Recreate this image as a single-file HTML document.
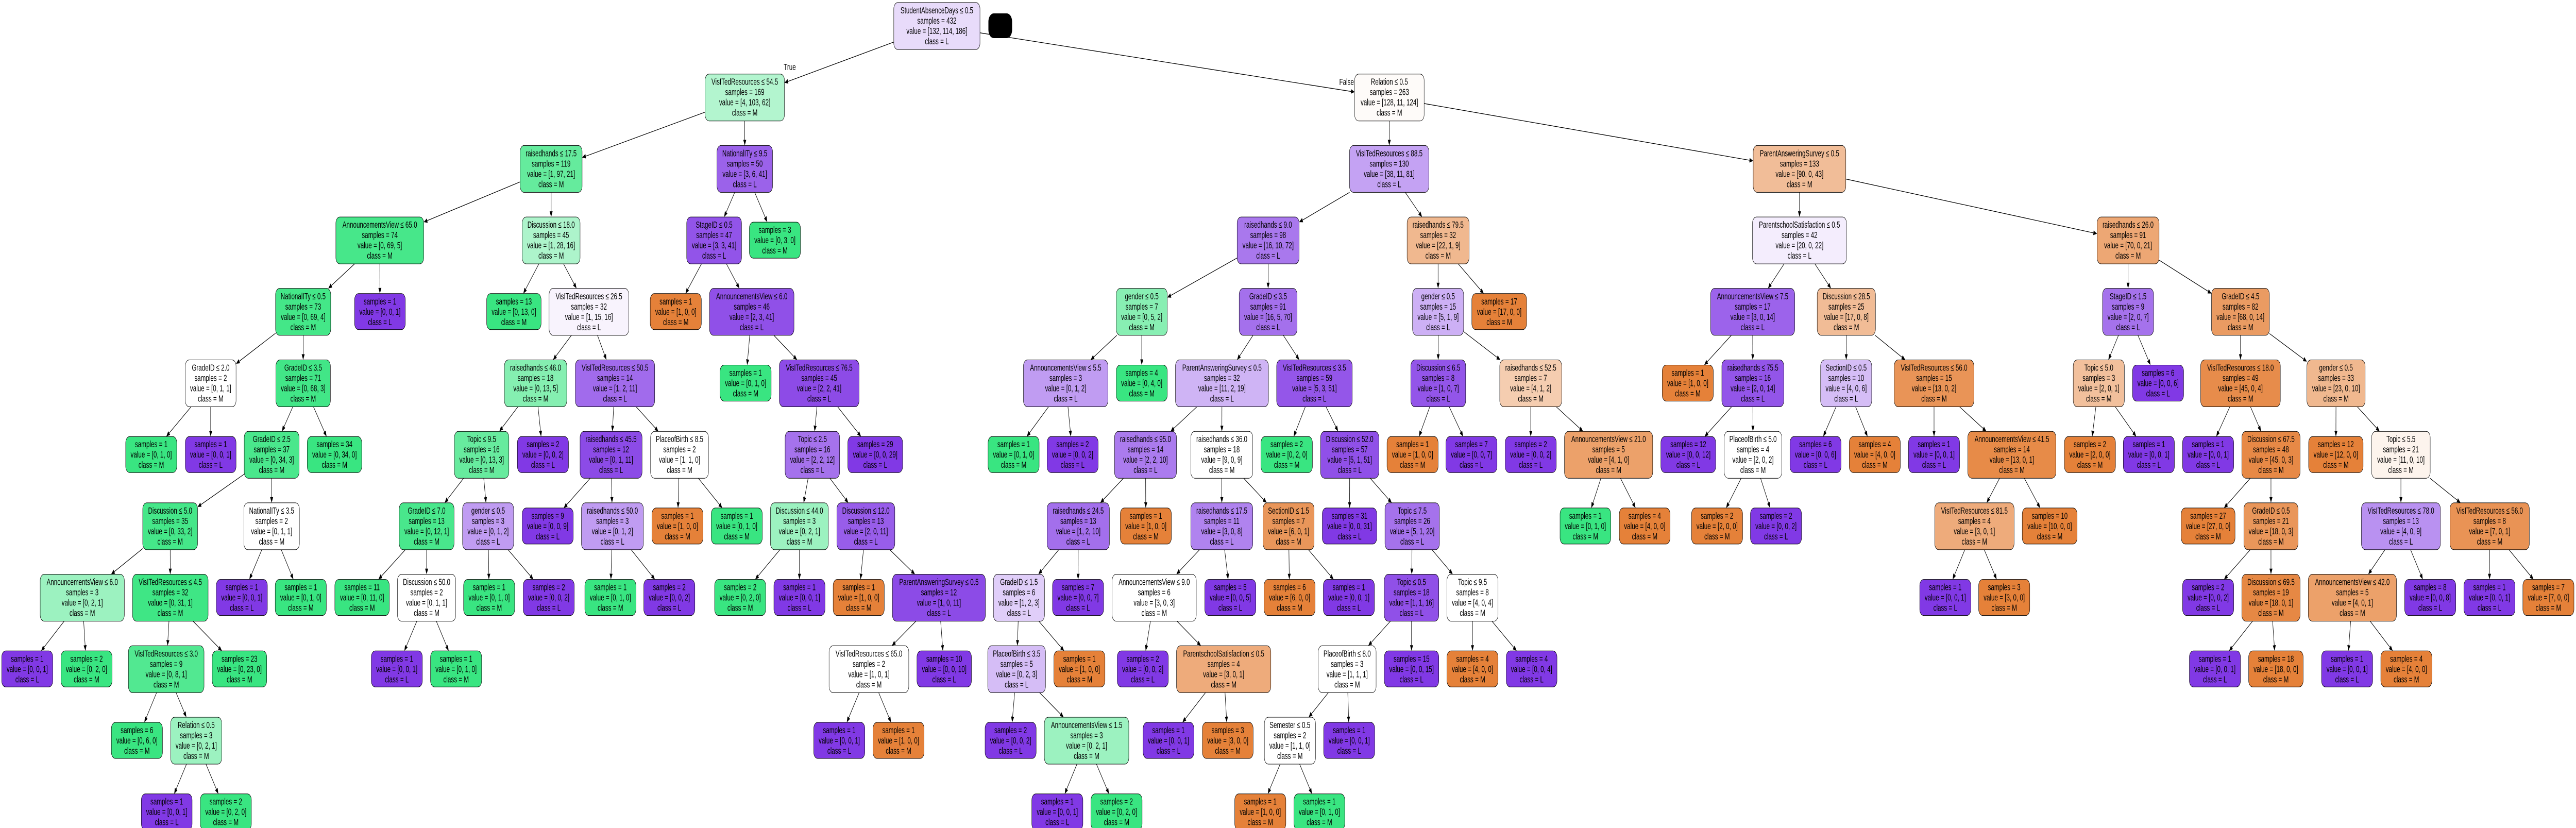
<!DOCTYPE html>
<html><head><meta charset="utf-8">
<style>
html,body{margin:0;padding:0;background:#fff;width:100%;height:100%;overflow:hidden}
#s{position:fixed;left:0;top:0;width:100vw;height:100vh;display:block}
svg text{font-family:"Liberation Sans",Arial,sans-serif;font-size:18px;fill:#000}
</style></head>
<body>
<svg id="s" viewBox="0 0 7717 1607" preserveAspectRatio="none" xmlns="http://www.w3.org/2000/svg">
<rect width="7717" height="1607" fill="#fff"/>
<rect x="2961" y="26" width="71" height="48" rx="16" fill="#000"/>
<text x="2366" y="136" text-anchor="middle">True</text>
<text x="4034" y="165" text-anchor="middle">False</text>
</svg>
<script>
const OFF={4:[0,1.0204],5:[1550,1.0204],6:[3100,1.0204],7:[4650,1.0204],8:[6117,1.0204],0:[0,1]};
const N=[
["",5,1105,1358,"StudentAbsenceDays ≤ 0.5",432,[132,114,186],"L"],
["A",5,551,784,"VisITedResources ≤ 54.5",169,[4,103,62],"M"],
["B",6,939,1143,"Relation ≤ 0.5",263,[128,11,124],"M"],
["A1",5,8,190,"raisedhands ≤ 17.5",119,[1,97,21],"M"],
["A2",5,586,749,"NationalITy ≤ 9.5",50,[3,6,41],"L"],
["B1",6,924,1157,"VisITedResources ≤ 88.5",130,[38,11,81],"L"],
["B2",7,590,862,"ParentAnsweringSurvey ≤ 0.5",133,[90,0,43],"M"],
["A1a",4,986,1244,"AnnouncementsView ≤ 65.0",74,[0,69,5],"M"],
["A1b",5,14,184,"Discussion ≤ 18.0",45,[1,28,16],"M"],
["A2a",5,497,658,"StageID ≤ 0.5",47,[3,3,41],"L"],
["A2b",5,681,831,"",3,[0,3,0],"M"],
["B1a",6,594,776,"raisedhands ≤ 9.0",98,[16,10,72],"L"],
["B1b",6,1093,1275,"raisedhands ≤ 79.5",32,[22,1,9],"M"],
["B2a",7,588,864,"ParentschoolSatisfaction ≤ 0.5",42,[20,0,22],"L"],
["B2b",8,162,344,"raisedhands ≤ 26.0",91,[70,0,21],"M"],
["A1a1",4,809,971,"NationalITy ≤ 0.5",73,[0,69,4],"M"],
["A1a2",4,1041,1190,"",1,[0,0,1],"L"],
["A1b1",0,1458,1621,"",13,[0,13,0],"M"],
["A1b2",5,93,327,"VisITedResources ≤ 26.5",32,[1,15,16],"L"],
["A2a1",5,390,540,"",1,[1,0,0],"M"],
["A2a2",5,564,812,"AnnouncementsView ≤ 6.0",46,[2,3,41],"L"],
["B1a1",6,239,389,"gender ≤ 0.5",7,[0,5,2],"M"],
["B1a2",6,600,770,"GradeID ≤ 3.5",91,[16,5,70],"L"],
["B1b1",6,1109,1259,"gender ≤ 0.5",15,[5,1,9],"L"],
["B1b2",6,1283,1444,"",17,[17,0,0],"M"],
["B2a1",7,465,712,"AnnouncementsView ≤ 7.5",17,[3,0,14],"L"],
["B2a2",7,778,949,"Discussion ≤ 28.5",25,[17,0,8],"M"],
["B2b1",8,178,328,"StageID ≤ 1.5",9,[2,0,7],"L"],
["B2b2",8,498,668,"GradeID ≤ 4.5",82,[68,0,14],"M"],
["A1a1a",4,544,693,"GradeID ≤ 2.0",2,[0,1,1],"M"],
["A1a1b",4,810,970,"GradeID ≤ 3.5",71,[0,68,3],"M"],
["A1b2a",0,1511,1698,"raisedhands ≤ 46.0",18,[0,13,5],"M"],
["A1b2b",5,170,403,"VisITedResources ≤ 50.5",14,[1,2,11],"L"],
["A2a2a",5,595,745,"",1,[0,1,0],"M"],
["A2a2b",5,769,1003,"VisITedResources ≤ 76.5",45,[2,2,41],"L"],
["B1a1a",0,3066,3319,"AnnouncementsView ≤ 5.5",3,[0,1,2],"L"],
["B1a1b",6,239,389,"",4,[0,4,0],"M"],
["B1a2a",6,413,686,"ParentAnsweringSurvey ≤ 0.5",32,[11,2,19],"L"],
["B1a2b",6,710,932,"VisITedResources ≤ 3.5",59,[5,3,51],"L"],
["B1b1a",6,1104,1265,"Discussion ≤ 6.5",8,[1,0,7],"L"],
["B1b1b",6,1365,1547,"raisedhands ≤ 52.5",7,[4,1,2],"M"],
["B2a1a",7,323,473,"",1,[1,0,0],"M"],
["B2a1b",7,498,680,"raisedhands ≤ 75.5",16,[2,0,14],"L"],
["B2a2a",7,788,938,"SectionID ≤ 0.5",10,[4,0,6],"L"],
["B2a2b",7,1004,1238,"VisITedResources ≤ 56.0",15,[13,0,2],"M"],
["B2b1a",8,92,242,"Topic ≤ 5.0",3,[2,0,1],"M"],
["B2b1b",8,266,416,"",6,[0,0,6],"L"],
["B2b2a",8,466,700,"VisITedResources ≤ 18.0",49,[45,0,4],"M"],
["B2b2b",8,778,949,"gender ≤ 0.5",33,[23,0,10],"M"],
["A1a1a1",4,369,519,"",1,[0,1,0],"M"],
["A1a1a2",4,544,693,"",1,[0,0,1],"L"],
["A1a1b1",4,717,878,"GradeID ≤ 2.5",37,[0,34,3],"M"],
["A1a1b2",4,902,1062,"",34,[0,34,0],"M"],
["A1b2a1",4,1334,1494,"Topic ≤ 9.5",16,[0,13,3],"M"],
["A1b2a2",5,0,150,"",2,[0,0,2],"L"],
["A1b2b1",5,184,366,"raisedhands ≤ 45.5",12,[0,1,11],"L"],
["A1b2b2",5,391,561,"PlaceofBirth ≤ 8.5",2,[1,1,0],"M"],
["A2a2b1",5,786,946,"Topic ≤ 2.5",16,[2,2,12],"L"],
["A2a2b2",5,970,1131,"",29,[0,0,29],"L"],
["B1a1a1",0,2960,3113,"",1,[0,1,0],"M"],
["B1a1a2",6,36,186,"",2,[0,0,2],"L"],
["B1a2a1",6,234,416,"raisedhands ≤ 95.0",14,[2,2,10],"L"],
["B1a2a2",6,458,640,"raisedhands ≤ 36.0",18,[9,0,9],"M"],
["B1a2b1",6,664,815,"",2,[0,2,0],"M"],
["B1a2b2",6,839,1010,"Discussion ≤ 52.0",57,[5,1,51],"L"],
["B1b1a1",6,1034,1184,"",1,[1,0,0],"M"],
["B1b1a2",6,1207,1357,"",7,[0,0,7],"L"],
["B1b1b1",6,1381,1531,"",2,[0,0,2],"L"],
["B1b1b2",7,36,295,"AnnouncementsView ≤ 21.0",5,[4,1,0],"M"],
["B2a1b1",7,319,480,"",12,[0,0,12],"L"],
["B2a1b2",7,505,674,"PlaceofBirth ≤ 5.0",4,[2,0,2],"M"],
["B2a2a1",7,698,848,"",6,[0,0,6],"L"],
["B2a2a2",7,872,1022,"",4,[4,0,0],"M"],
["B2a2b1",7,1046,1196,"",1,[0,0,1],"L"],
["B2a2b2",7,1220,1479,"AnnouncementsView ≤ 41.5",14,[13,0,1],"M"],
["B2b1a1",8,66,216,"",2,[2,0,0],"M"],
["B2b1a2",8,239,389,"",1,[0,0,1],"L"],
["B2b2a1",8,413,563,"",1,[0,0,1],"L"],
["B2b2a2",8,587,758,"Discussion ≤ 67.5",48,[45,0,3],"M"],
["B2b2b1",8,783,943,"",12,[12,0,0],"M"],
["B2b2b2",8,968,1140,"Topic ≤ 5.5",21,[11,0,10],"M"],
["A1a1b1a",4,419,580,"Discussion ≤ 5.0",35,[0,33,2],"M"],
["A1a1b1b",4,716,879,"NationalITy ≤ 3.5",2,[0,1,1],"M"],
["A1b2a1a",4,1172,1333,"GradeID ≤ 7.0",13,[0,12,1],"M"],
["A1b2a1b",4,1358,1508,"gender ≤ 0.5",3,[0,1,2],"L"],
["A1b2b1a",5,14,164,"",9,[0,0,9],"L"],
["A1b2b1b",5,188,370,"raisedhands ≤ 50.0",3,[0,1,2],"L"],
["A1b2b2a",5,395,545,"",1,[1,0,0],"M"],
["A1b2b2b",5,569,719,"",1,[0,1,0],"M"],
["A2a2b1a",5,743,913,"Discussion ≤ 44.0",3,[0,2,1],"M"],
["A2a2b1b",5,938,1108,"Discussion ≤ 12.0",13,[2,0,11],"L"],
["B1a2a1a",6,36,219,"raisedhands ≤ 24.5",13,[1,2,10],"L"],
["B1a2a1b",6,251,401,"",1,[1,0,0],"M"],
["B1a2a2a",6,458,640,"raisedhands ≤ 17.5",11,[3,0,8],"L"],
["B1a2a2b",6,670,820,"SectionID ≤ 1.5",7,[6,0,1],"M"],
["B1a2b2a",6,844,1004,"",31,[0,0,31],"L"],
["B1a2b2b",6,1028,1188,"Topic ≤ 7.5",26,[5,1,20],"L"],
["B1b1b2a",7,23,172,"",1,[0,1,0],"M"],
["B1b1b2b",7,197,346,"",4,[4,0,0],"M"],
["B2a1b2a",7,409,559,"",2,[2,0,0],"M"],
["B2a1b2b",7,582,732,"",2,[0,0,2],"L"],
["B2a2b2a",7,1123,1356,"VisITedResources ≤ 81.5",4,[3,0,1],"M"],
["B2a2b2b",7,1380,1541,"",10,[10,0,0],"M"],
["B2b2a2a",8,409,567,"",27,[27,0,0],"M"],
["B2b2a2b",8,593,752,"GradeID ≤ 0.5",21,[18,0,3],"M"],
["B2b2b2a",8,938,1170,"VisITedResources ≤ 78.0",13,[4,0,9],"L"],
["B2b2b2b",8,1198,1431,"VisITedResources ≤ 56.0",8,[7,0,1],"M"],
["A1a1b1a1",4,118,365,"AnnouncementsView ≤ 6.0",3,[0,2,1],"M"],
["A1a1b1a2",4,389,611,"VisITedResources ≤ 4.5",32,[0,31,1],"M"],
["A1a1b1b1",4,635,785,"",1,[0,0,1],"L"],
["A1a1b1b2",4,808,958,"",1,[0,1,0],"M"],
["A1b2a1a1",4,983,1143,"",11,[0,11,0],"M"],
["A1b2a1a2",4,1167,1338,"Discussion ≤ 50.0",2,[0,1,1],"M"],
["A1b2a1b1",4,1361,1511,"",1,[0,1,0],"M"],
["A1b2a1b2",5,17,167,"",2,[0,0,2],"L"],
["A1b2b1b1",5,198,348,"",1,[0,1,0],"M"],
["A1b2b1b2",5,371,521,"",2,[0,0,2],"L"],
["A2a2b1a1",5,579,729,"",2,[0,2,0],"M"],
["A2a2b1a2",5,753,903,"",1,[0,0,1],"L"],
["A2a2b1b1",5,927,1077,"",1,[1,0,0],"M"],
["A2a2b1b2",5,1101,1374,"ParentAnsweringSurvey ≤ 0.5",12,[1,0,11],"L"],
["B1a2a1a1",0,2976,3129,"GradeID ≤ 1.5",6,[1,2,3],"L"],
["B1a2a1a2",6,52,202,"",7,[0,0,7],"L"],
["B1a2a2a1",6,227,474,"AnnouncementsView ≤ 9.0",6,[3,0,3],"M"],
["B1a2a2a2",6,499,649,"",5,[0,0,5],"L"],
["B1a2a2b1",6,673,823,"",6,[6,0,0],"M"],
["B1a2a2b2",6,847,997,"",1,[0,0,1],"L"],
["B1a2b2b1",6,1026,1186,"Topic ≤ 0.5",18,[1,1,16],"L"],
["B1a2b2b2",6,1210,1360,"Topic ≤ 9.5",8,[4,0,4],"M"],
["B2a2b2a1",7,1079,1229,"",1,[0,0,1],"L"],
["B2a2b2a2",7,1252,1402,"",3,[3,0,0],"M"],
["B2b2a2b1",8,413,563,"",2,[0,0,2],"L"],
["B2b2a2b2",8,587,758,"Discussion ≤ 69.5",19,[18,0,1],"M"],
["B2b2b2a1",8,782,1041,"AnnouncementsView ≤ 42.0",5,[4,0,1],"M"],
["B2b2b2a2",8,1065,1215,"",8,[0,0,8],"L"],
["B2b2b2b1",8,1239,1389,"",1,[0,0,1],"L"],
["B2b2b2b2",8,1412,1562,"",7,[7,0,0],"M"],
["A1a1b1a1a",4,5,155,"",1,[0,0,1],"L"],
["A1a1b1a1b",4,179,329,"",2,[0,2,0],"M"],
["A1a1b1a2a",4,377,599,"VisITedResources ≤ 3.0",9,[0,8,1],"M"],
["A1a1b1a2b",4,623,783,"",23,[0,23,0],"M"],
["A1b2a1a2a",4,1090,1240,"",1,[0,0,1],"L"],
["A1b2a1a2b",4,1264,1414,"",1,[0,1,0],"M"],
["A2a2b1b2a",5,915,1149,"VisITedResources ≤ 65.0",2,[1,0,1],"M"],
["A2a2b1b2b",5,1173,1333,"",10,[0,0,10],"L"],
["B1a2a1a1a",0,2959,3132,"PlaceofBirth ≤ 3.5",5,[0,2,3],"L"],
["B1a2a1a1b",6,56,206,"",1,[1,0,0],"M"],
["B1a2a2a1a",6,242,392,"",2,[0,0,2],"L"],
["B1a2a2a1b",6,416,693,"ParentschoolSatisfaction ≤ 0.5",4,[3,0,1],"M"],
["B1a2b2b1a",6,832,1002,"PlaceofBirth ≤ 8.0",3,[1,1,1],"M"],
["B1a2b2b1b",6,1026,1186,"",15,[0,0,15],"L"],
["B1a2b2b2a",6,1210,1360,"",4,[4,0,0],"M"],
["B1a2b2b2b",6,1384,1533,"",4,[0,0,4],"L"],
["B2b2a2b2a",8,433,583,"",1,[0,0,1],"L"],
["B2b2a2b2b",8,607,767,"",18,[18,0,0],"M"],
["B2b2b2a1a",8,821,971,"",1,[0,0,1],"L"],
["B2b2b2a1b",8,995,1145,"",4,[4,0,0],"M"],
["A1a1b1a2a1",4,327,477,"",6,[0,6,0],"M"],
["A1a1b1a2a2",4,501,651,"Relation ≤ 0.5",3,[0,2,1],"M"],
["A2a2b1b2a1",5,870,1020,"",1,[0,0,1],"L"],
["A2a2b1b2a2",5,1044,1194,"",1,[1,0,0],"M"],
["B1a2a1a1a1",5,1373,1523,"",2,[0,0,2],"L"],
["B1a2a1a1a2",6,28,276,"AnnouncementsView ≤ 1.5",3,[0,2,1],"M"],
["B1a2a2a1b1",6,318,467,"",1,[0,0,1],"L"],
["B1a2a2a1b2",6,492,641,"",3,[3,0,0],"M"],
["B1a2b2b1a1",6,674,824,"Semester ≤ 0.5",2,[1,1,0],"M"],
["B1a2b2b1a2",6,848,998,"",1,[0,0,1],"L"],
["A1a1b1a2a2a",4,415,564,"",1,[0,0,1],"L"],
["A1a1b1a2a2b",4,588,738,"",2,[0,2,0],"M"],
["B1a2a1a1a2a",0,3091,3244,"",1,[0,0,1],"L"],
["B1a2a1a1a2b",6,165,315,"",2,[0,2,0],"M"],
["B1a2b2b1a1a",6,587,737,"",1,[1,0,0],"M"],
["B1a2b2b1a1b",6,761,910,"",1,[0,1,0],"M"]
];
const COL=[[229,129,57],[57,229,129],[129,57,229]];
function fill(v){const t=v.reduce((a,b)=>a+b,0);const p=v.map(x=>x/t);let mi=0;for(let i=1;i<3;i++)if(p[i]>p[mi])mi=i;const s=[...p].sort((a,b)=>b-a);const a=s[1]>=1?0:(s[0]-s[1])/(1-s[1]);const c=COL[mi].map(x=>Math.round(a*x+(1-a)*255));return`rgb(${c[0]},${c[1]},${c[2]})`;}
const B={};
for(const n of N){const [id,cr,p1,p2,cond,s,v,c]=n;const o=OFF[cr];const x1=o[0]+p1*o[1],x2=o[0]+p2*o[1];const lvl=id.length;const L=5+138.7*lvl;const leaf=cond==="";const y=leaf?L+10:L;const h=leaf?70:91;B[id]={x1,x2,y,h,cx:(x1+x2)/2,cy:y+h/2,n};}
const svg=document.getElementById('s');let out='';
function clip(b,dx,dy){const hw=(b.x2-b.x1)/2,hh=b.h/2;const t=Math.min(dx?hw/Math.abs(dx):1e9,dy?hh/Math.abs(dy):1e9);return[b.cx+dx*t,b.cy+dy*t];}
for(const id in B){if(id==="")continue;const c=B[id],p=B[id.slice(0,-1)];const dx=c.cx-p.cx,dy=c.cy-p.cy;const a=clip(p,dx,dy),b=clip(c,-dx,-dy);const len=Math.hypot(b[0]-a[0],b[1]-a[1]);const ux=(b[0]-a[0])/len,uy=(b[1]-a[1])/len;const bx=b[0]-ux*11,by=b[1]-uy*11;out+=`<line x1="${a[0]}" y1="${a[1]}" x2="${bx}" y2="${by}" stroke="#000" stroke-width="1.3"/>`;out+=`<polygon points="${b[0]},${b[1]} ${bx-uy*4.5},${by+ux*4.5} ${bx+uy*4.5},${by-ux*4.5}" fill="#000"/>`;}
for(const id in B){const b=B[id];const [_,cr,p1,p2,cond,s,v,c]=b.n;out+=`<rect x="${b.x1}" y="${b.y}" width="${b.x2-b.x1}" height="${b.h}" rx="12" fill="${fill(v)}" stroke="#000" stroke-width="1"/>`;const lines=[];if(cond)lines.push(cond);lines.push("samples = "+s,"value = ["+v.join(", ")+"]","class = "+c);lines.forEach((t,i)=>{out+=`<text x="${b.cx}" y="${b.y+21+i*20}" text-anchor="middle">${t}</text>`;});}
svg.insertAdjacentHTML('beforeend',out);
</script>
</body></html>
